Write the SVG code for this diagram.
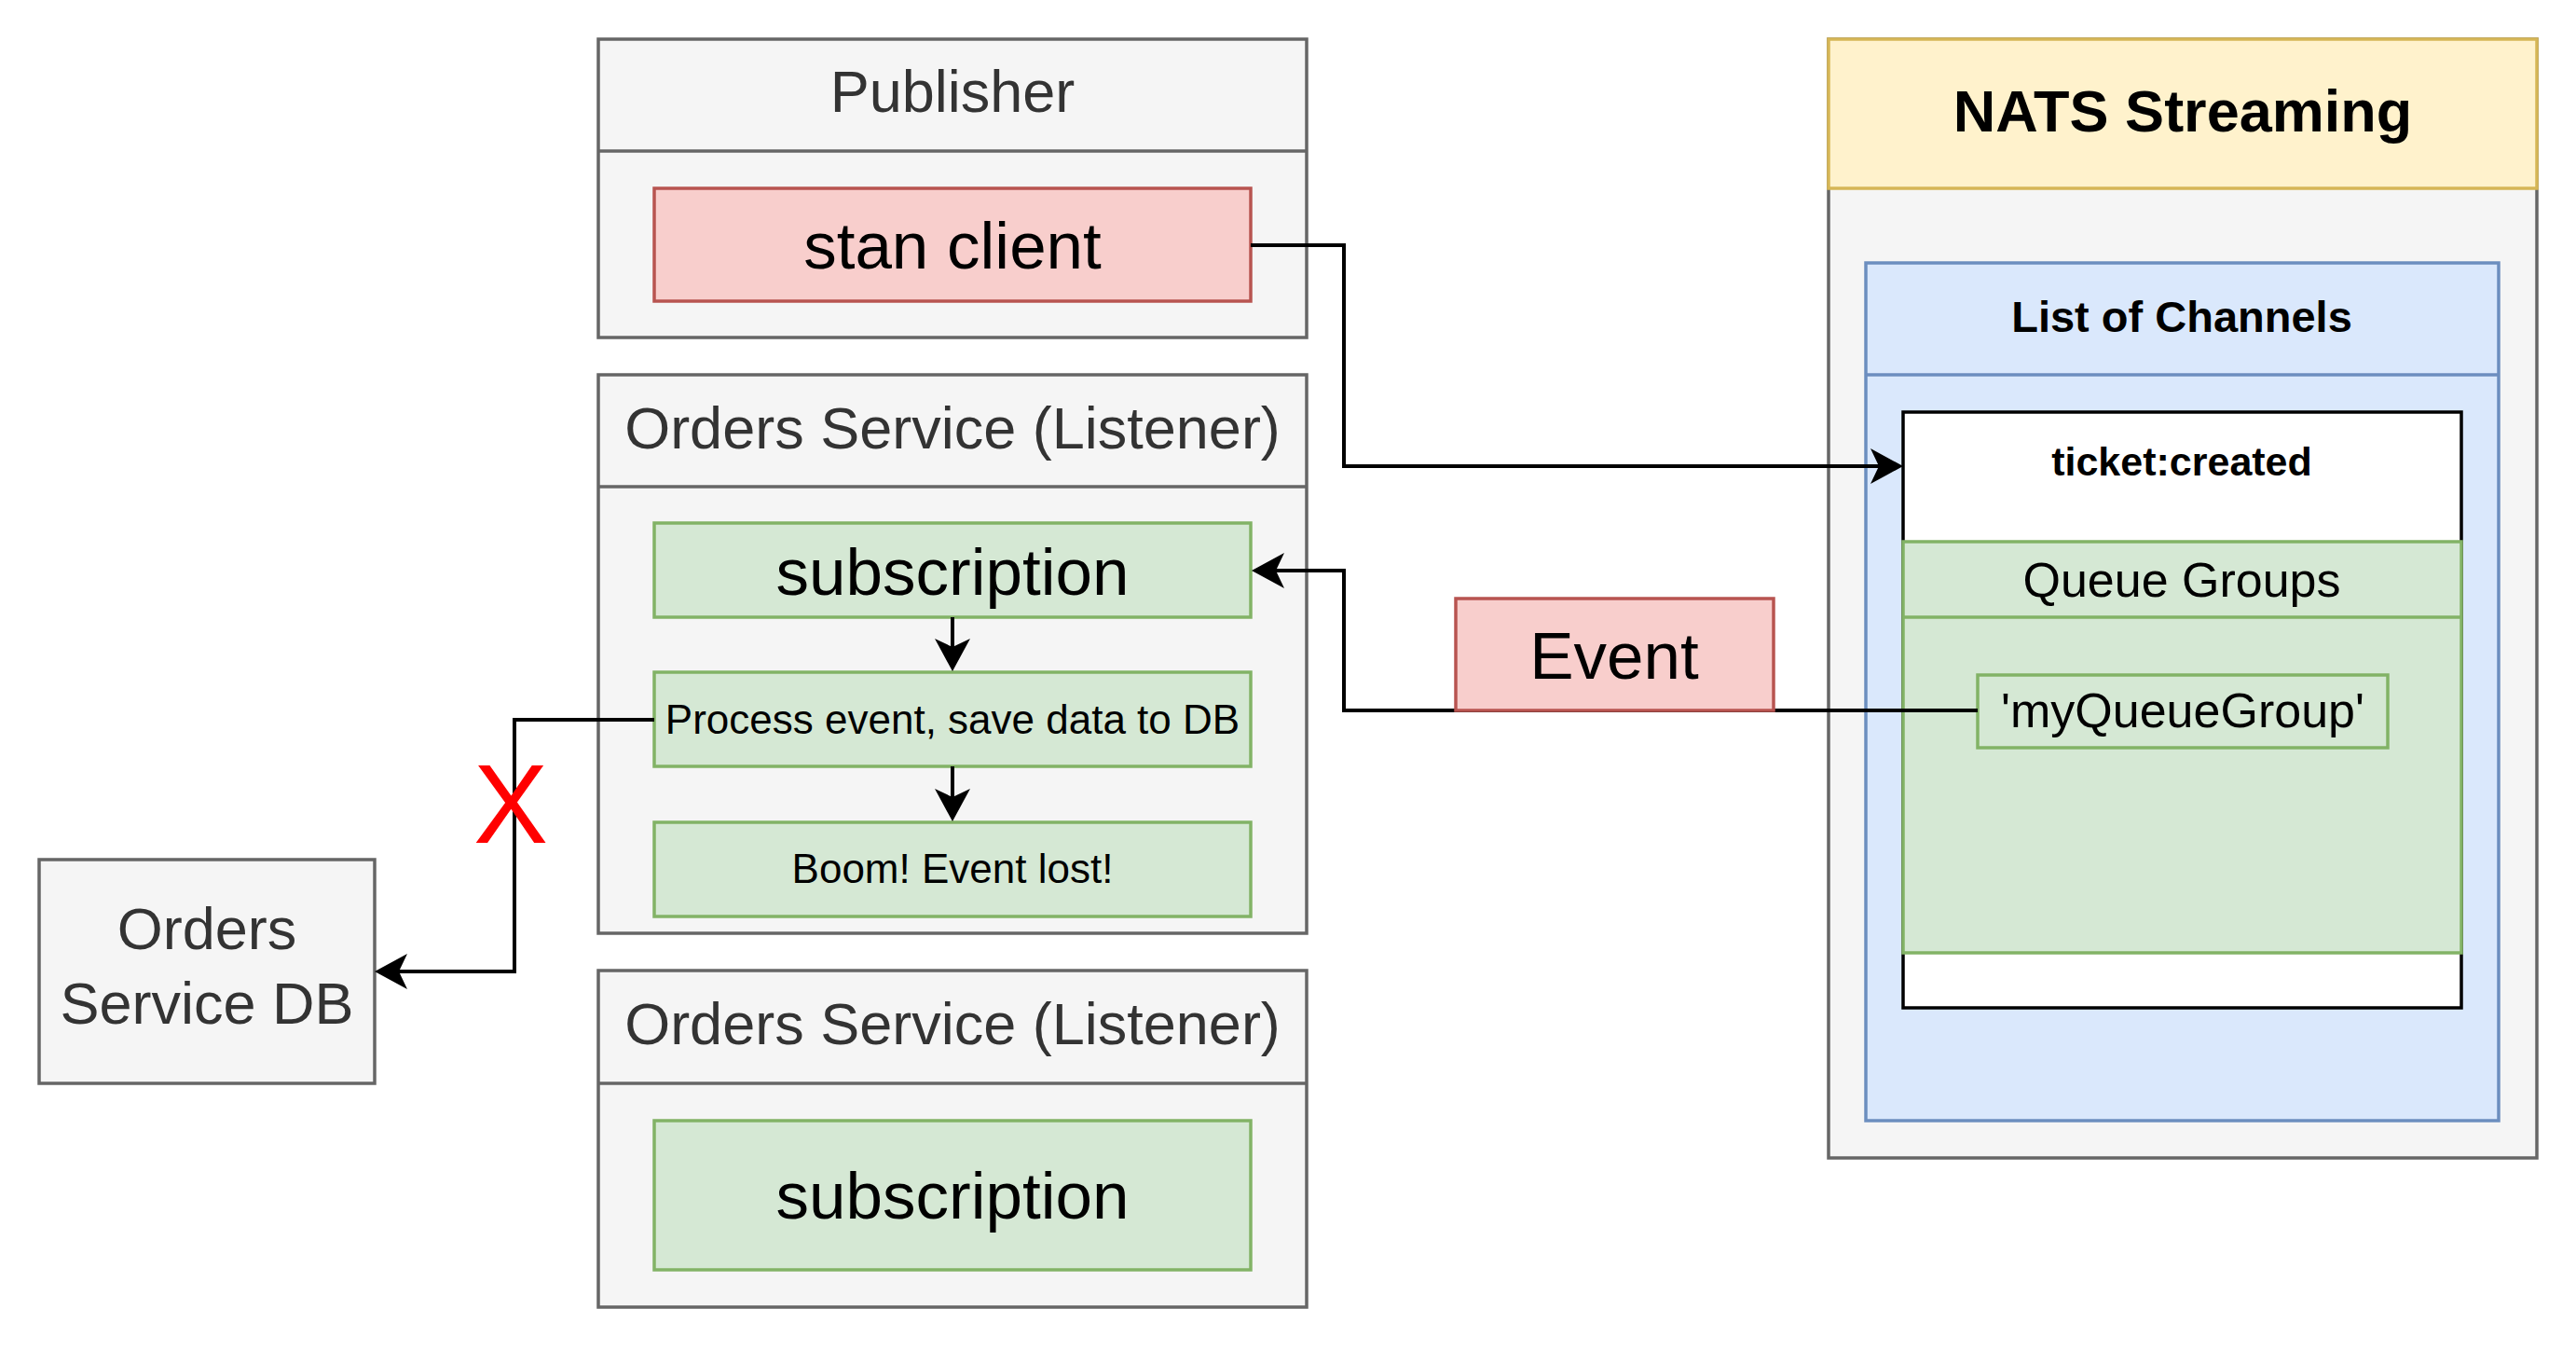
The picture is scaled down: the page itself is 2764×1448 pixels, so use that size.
<svg xmlns="http://www.w3.org/2000/svg" width="2764" height="1448" viewBox="0 0 2764 1448">
<defs>
<style>
text{font-family:"Liberation Sans",Arial,Helvetica,sans-serif;text-anchor:middle}
.gray{fill:#f5f5f5;stroke:#666666;stroke-width:3.5}
.red{fill:#f8cecc;stroke:#b85450;stroke-width:3.5}
.green{fill:#d5e8d4;stroke:#82b366;stroke-width:3.5}
.blue{fill:#dae8fc;stroke:#6c8ebf;stroke-width:3.5}
.yellow{fill:#fff2cc;stroke:#d6b656;stroke-width:3.5}
.white{fill:#ffffff;stroke:#000000;stroke-width:3.5}
.t63{font-size:63px;fill:#333333}
.t71{font-size:71px;fill:#000000}
.t44{font-size:44px;fill:#000000}
.t52{font-size:52px;fill:#000000}
.b{font-weight:bold;fill:#000000}
.conn{fill:none;stroke:#000000;stroke-width:4}
</style>
<marker id="arr" markerUnits="userSpaceOnUse" viewBox="0 0 36 38" markerWidth="36" markerHeight="38" refX="9" refY="19" orient="auto">
<path d="M35,19 L0,0 L9,19 L0,38 Z" fill="#000000"/>
</marker>
</defs>
<rect width="2764" height="1448" fill="#ffffff"/>

<g id="publisher">
<rect class="gray" x="642" y="42" width="760" height="320"/>
<line x1="642" y1="162" x2="1402" y2="162" stroke="#666666" stroke-width="3.5"/>
<text class="t63" x="1022" y="120">Publisher</text>
</g>
<g id="stan-client">
<rect class="red" x="702" y="202" width="640" height="121"/>
<text class="t71" x="1022" y="288">stan client</text>
</g>

<g id="orders-service-1">
<rect class="gray" x="642" y="402" width="760" height="599"/>
<line x1="642" y1="522" x2="1402" y2="522" stroke="#666666" stroke-width="3.5"/>
<text class="t63" x="1022" y="481">Orders Service (Listener)</text>
</g>
<g id="subscription-1">
<rect class="green" x="702" y="561" width="640" height="101"/>
<text class="t71" x="1022" y="638">subscription</text>
</g>
<g id="process-event">
<rect class="green" x="702" y="721" width="640" height="101"/>
<text class="t44" x="1022" y="787">Process event, save data to DB</text>
</g>
<g id="boom">
<rect class="green" x="702" y="882" width="640" height="101"/>
<text class="t44" x="1022" y="947">Boom! Event lost!</text>
</g>

<g id="orders-service-2">
<rect class="gray" x="642" y="1041" width="760" height="361"/>
<line x1="642" y1="1162" x2="1402" y2="1162" stroke="#666666" stroke-width="3.5"/>
<text class="t63" x="1022" y="1120">Orders Service (Listener)</text>
</g>
<g id="subscription-2">
<rect class="green" x="702" y="1202" width="640" height="160"/>
<text class="t71" x="1022" y="1307">subscription</text>
</g>

<g id="orders-db">
<rect class="gray" x="42" y="922" width="360" height="240"/>
<text class="t63" x="222" y="1018">Orders</text>
<text class="t63" x="222" y="1098">Service DB</text>
</g>

<g id="nats-streaming">
<rect class="gray" x="1962" y="42" width="760" height="1200"/>
<rect class="yellow" x="1962" y="42" width="760" height="160"/>
<text class="b" x="2342" y="141" font-size="63">NATS Streaming</text>
</g>
<g id="list-of-channels">
<rect class="blue" x="2002" y="282" width="679" height="920"/>
<line x1="2002" y1="402" x2="2681" y2="402" stroke="#6c8ebf" stroke-width="3.5"/>
<text class="b" x="2341" y="356" font-size="47">List of Channels</text>
</g>
<g id="ticket-created">
<rect class="white" x="2042" y="442" width="599" height="639"/>
<text class="b" x="2341" y="510" font-size="43">ticket:created</text>
</g>
<g id="queue-groups">
<rect class="green" x="2042" y="581" width="599" height="441"/>
<line x1="2042" y1="662" x2="2641" y2="662" stroke="#82b366" stroke-width="3.5"/>
<text class="t52" x="2341" y="640">Queue Groups</text>
</g>
<g id="my-queue-group">
<rect class="green" x="2122" y="724" width="440" height="78"/>
<text class="t52" x="2342" y="780">'myQueueGroup'</text>
</g>

<g id="connectors">
<path class="conn" d="M1342,263 H1442 V500 H2016" marker-end="url(#arr)"/>
<path class="conn" d="M2122,762 H1442 V612 H1369" marker-end="url(#arr)"/>
<path class="conn" d="M1022,662 V694" marker-end="url(#arr)"/>
<path class="conn" d="M1022,822 V855" marker-end="url(#arr)"/>
<path class="conn" d="M702,772 H552 V1042 H428" marker-end="url(#arr)"/>
</g>

<g id="event">
<rect class="red" x="1562" y="642" width="341" height="120"/>
<text class="t71" x="1732" y="728">Event</text>
</g>

<g id="x-mark">
<text x="548" y="904" font-size="120" fill="#ff0000">X</text>
</g>
</svg>
